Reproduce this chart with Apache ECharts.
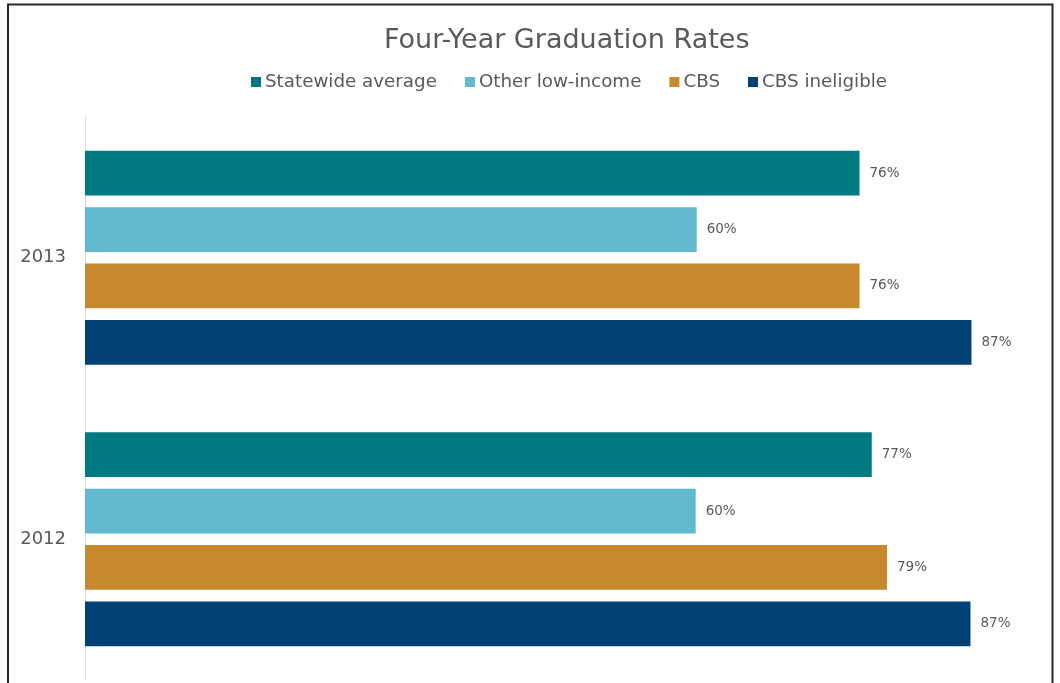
<!DOCTYPE html>
<html>
<head>
<meta charset="utf-8">
<title>Four-Year Graduation Rates</title>
<script src="https://cdn.jsdelivr.net/npm/echarts@6/dist/echarts.min.js"></script>
<style>
  html, body { margin: 0; padding: 0; background: #fff; }
  #chart { width: 1060px; height: 683px; }
</style>
</head>
<body>
<div id="chart"></div>
<script>
// data (percent)
const years = ['2012', '2013']
const seriesNames = ['Statewide average', 'Other low-income', 'CBS', 'CBS ineligible']
const statewide = [77.3, 76.1]
const otherLowIncome = [60.0, 60.1]
const cbs = [78.8, 76.1]
const cbsIneligible = [87.0, 87.1]

const colors = ['#007a80', '#62b8cc', '#c7882e', '#004175']
const textColor = '#595959'
const font = 'DejaVu Sans'

const chart = echarts.init(document.getElementById('chart'))

const values = [statewide, otherLowIncome, cbs, cbsIneligible]

const option = {
  animation: false,
  color: colors,
  title: {
    text: 'Four-Year Graduation Rates',
    left: 379,
    top: 22,
    textStyle: {
      color: textColor,
      fontFamily: font,
      fontWeight: 'normal',
      fontSize: 27
    }
  },
  legend: {
    top: 68,
    left: 246,
    data: seriesNames,
    icon: 'rect',
    itemWidth: 10,
    itemHeight: 10,
    itemGap: 28,
    textStyle: {
      color: textColor,
      fontFamily: font,
      fontSize: 18.3,
      padding: [0, 0, 0, -1]
    }
  },
  grid: {
    left: 85,
    right: 59,
    top: 117,
    bottom: 3,
    containLabel: false
  },
  xAxis: {
    type: 'value',
    min: 0,
    max: 90,
    show: false,
    splitLine: {show: false}
  },
  yAxis: {
    type: 'category',
    data: years,
    axisTick: {show: false},
    axisLine: {
      show: true,
      lineStyle: {color: '#d9d9d9', width: 1}
    },
    axisLabel: {
      color: textColor,
      fontFamily: font,
      fontSize: 18,
      margin: 19
    }
  },
  graphic: [
    {
      type: 'rect',
      silent: true,
      shape: {x: 8, y: 4.5, width: 1044.5, height: 700},
      style: {fill: 'none', stroke: '#262626', lineWidth: 2}
    }
  ],
  series: seriesNames.map((name, i) => ({
    name: name,
    type: 'bar',
    data: values[i],
    barGap: '26%',
    barCategoryGap: '24%',
    label: {
      show: true,
      position: 'right',
      distance: 10,
      color: textColor,
      fontFamily: font,
      fontSize: 13.5,
      formatter: (p) => Math.round(p.value) + '%'
    }
  }))
}

chart.setOption(option)
</script>
</body>
</html>
